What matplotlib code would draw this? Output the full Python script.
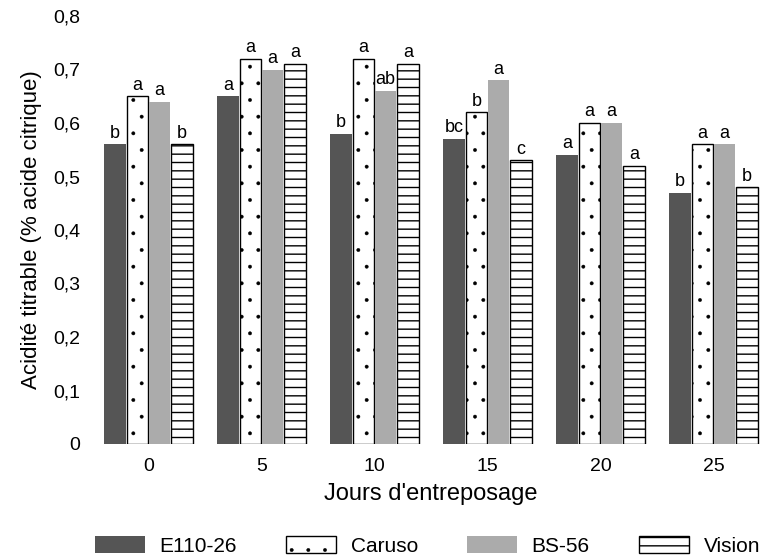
import matplotlib
matplotlib.use("Agg")
import matplotlib.pyplot as plt
import numpy as np

plt.rcParams['font.family'] = ['Liberation Sans', 'DejaVu Sans']
plt.rcParams['hatch.linewidth'] = 1.0

days = ['0', '5', '10', '15', '20', '25']
series_names = ['E110-26', 'Caruso', 'BS-56', 'Vision']
e110 = [0.56, 0.65, 0.58, 0.57, 0.54, 0.47]
caruso = [0.65, 0.72, 0.72, 0.62, 0.60, 0.56]
bs56 = [0.64, 0.70, 0.66, 0.68, 0.60, 0.56]
vision = [0.56, 0.71, 0.71, 0.53, 0.52, 0.48]
letters_e110 = ['b', 'a', 'b', 'bc', 'a', 'b']
letters_caruso = ['a', 'a', 'a', 'b', 'a', 'a']
letters_bs56 = ['a', 'a', 'ab', 'a', 'a', 'a']
letters_vision = ['b', 'a', 'a', 'c', 'a', 'b']
yticks = [0, 0.1, 0.2, 0.3, 0.4, 0.5, 0.6, 0.7, 0.8]
ytick_labels = ['0', '0,1', '0,2', '0,3', '0,4', '0,5', '0,6', '0,7', '0,8']

fig = plt.figure(figsize=(7.61, 5.59), dpi=100)
ax = fig.add_axes([100/761, 1-444/559, 661/761, (444-16)/559])

x = np.arange(len(days))
pitch = 0.197
width = 0.19
styles = [
    dict(color='#555555', edgecolor='none'),
    dict(facecolor='white', edgecolor='black', hatch='.', linewidth=1.0),
    dict(color='#ababab', edgecolor='none'),
    dict(facecolor='white', edgecolor='black', hatch='--', linewidth=1.0),
]
hatch_lw = [1.0, 0.3, 1.0, 1.0]
data = [e110, caruso, bs56, vision]
letters = [letters_e110, letters_caruso, letters_bs56, letters_vision]
handles = []
for i, (vals, st, lab, name) in enumerate(zip(data, styles, letters, series_names)):
    pos = x + (i - 1.5) * pitch
    with plt.rc_context({'hatch.linewidth': hatch_lw[i]}):
        b = ax.bar(pos, vals, width, label=name, **st)
    for r in b:
        if hasattr(r, 'set_hatch_linewidth'):
            r.set_hatch_linewidth(hatch_lw[i])
    handles.append(b)
    for p, v, t in zip(pos, vals, lab):
        ax.text(p, v + 0.005, t, ha='center', va='bottom', fontsize=13)

ax.set_xlim(-0.43, 5.42)
ax.set_ylim(0, 0.8)
ax.set_yticks(yticks)
ax.set_yticklabels(ytick_labels, fontsize=14)
ax.set_xticks(x)
ax.set_xticklabels(days, fontsize=14)
ax.tick_params(length=0)
ax.tick_params(axis='x', pad=10)
ax.tick_params(axis='y', pad=14)
for s in ax.spines.values():
    s.set_visible(False)
ax.set_ylabel('Acidité titrable (% acide citrique)', fontsize=16, labelpad=8)
ax.set_xlabel("Jours d'entreposage", fontsize=17, labelpad=6)

leg = fig.legend(handles=handles, labels=series_names, loc='lower left', ncol=4,
                 bbox_to_anchor=(95/761, 1-556/559, 665/761, 20/559), mode='expand',
                 frameon=False, fontsize=15, handlelength=2.4, handleheight=0.9,
                 handletextpad=0.7, borderaxespad=0, borderpad=0)
for h in leg.legend_handles:
    if hasattr(h, 'set_hatch_linewidth') and h.get_hatch() == '.':
        h.set_hatch_linewidth(0.3)

fig.savefig('out.png', dpi=100, facecolor='white')
